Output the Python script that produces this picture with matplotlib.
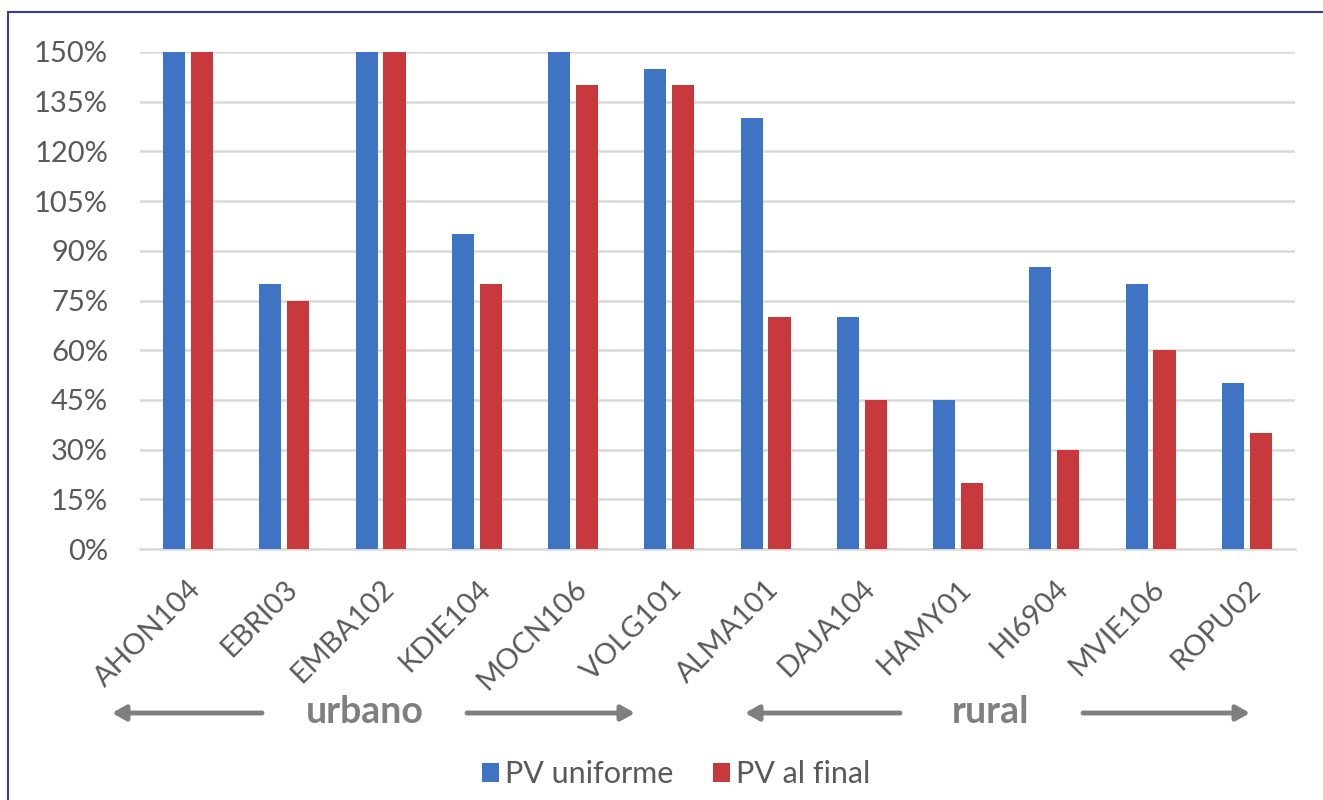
import matplotlib
matplotlib.use("Agg")
import matplotlib.pyplot as plt
from matplotlib.patches import Rectangle
import numpy as np

categories = ["AHON104", "EBRI03", "EMBA102", "KDIE104", "MOCN106", "VOLG101",
              "ALMA101", "DAJA104", "HAMY01", "HI6904", "MVIE106", "ROPU02"]
pv_uniforme = [150, 80, 150, 95, 150, 145, 130, 70, 45, 85, 80, 50]
pv_al_final = [150, 75, 150, 80, 140, 140, 70, 45, 20, 30, 60, 35]
series_names = ["PV uniforme", "PV al final"]
y_ticks = list(range(0, 151, 15))
group_labels = ["urbano", "rural"]

BLUE = "#3F74C4"
RED = "#C7393C"
GRAY = "#595959"
FONT = ["Lato", "DejaVu Sans"]
plt.rcParams['font.family'] = FONT

fig = plt.figure(figsize=(13.23, 8.0), dpi=100)
ax = fig.add_axes([0.1058, 0.31375, 0.873, 0.62125])

x = np.arange(len(categories))
w = 0.23
ax.bar(x - 0.145, pv_uniforme, width=w, color=BLUE, label=series_names[0], zorder=3)
ax.bar(x + 0.145, pv_al_final, width=w, color=RED, label=series_names[1], zorder=3)

ax.set_xlim(-0.5, len(categories) - 0.5)
ax.set_ylim(0, 150)
ax.set_yticks(y_ticks)
ax.set_yticklabels([f"{v}%" for v in y_ticks], fontsize=21, color=GRAY)
ax.yaxis.grid(True, color="#D9D9D9", linewidth=1.8, zorder=0)
ax.set_axisbelow(True)
for s in ["top", "right", "left"]:
    ax.spines[s].set_visible(False)
ax.spines["bottom"].set_color("#D9D9D9")
ax.spines["bottom"].set_linewidth(1.8)
ax.tick_params(axis="both", length=0)
ax.tick_params(axis="y", pad=23)
ax.set_xticks(x)
ax.set_xticklabels(categories, rotation=45, ha="right", va="top",
                   rotation_mode="anchor", fontsize=21, color=GRAY)
ax.tick_params(axis="x", pad=19)

# group annotations
arrow_kw = dict(arrowstyle="-|>,head_length=0.8,head_width=0.45", color="#7F7F7F", lw=3.5,
                shrinkA=0, shrinkB=0)
yy = 1 - 713 / 800
def px(v):
    return v / 1323
ax.annotate("", xy=(px(112), yy), xytext=(px(262), yy), xycoords="figure fraction",
            textcoords="figure fraction", arrowprops=arrow_kw)
ax.annotate("", xy=(px(635), yy), xytext=(px(467), yy), xycoords="figure fraction",
            textcoords="figure fraction", arrowprops=arrow_kw)
fig.text(px(365), 1 - 712 / 800, group_labels[0], ha="center", va="center", fontsize=27,
         fontweight="bold", color="#7F7F7F")
ax.annotate("", xy=(px(745), yy), xytext=(px(900), yy), xycoords="figure fraction",
            textcoords="figure fraction", arrowprops=arrow_kw)
ax.annotate("", xy=(px(1250), yy), xytext=(px(1083), yy), xycoords="figure fraction",
            textcoords="figure fraction", arrowprops=arrow_kw)
fig.text(px(990), 1 - 712 / 800, group_labels[1], ha="center", va="center", fontsize=27,
         fontweight="bold", color="#7F7F7F")

leg = fig.legend(loc="center", bbox_to_anchor=(0.511, 0.032), ncol=2, frameon=False,
                 fontsize=22, handlelength=0.55, handleheight=0.55, handletextpad=0.2,
                 columnspacing=1.3, borderaxespad=0, borderpad=0)
for t in leg.get_texts():
    t.set_color(GRAY)

# outer border
fig.patches.append(Rectangle((8 / 1323, -0.01), 1.1, 1 - 12 / 800 + 0.01,
                             transform=fig.transFigure, fill=False,
                             edgecolor="#2F3F9A", linewidth=1.5, zorder=10))

fig.savefig("out.png", dpi=100)
